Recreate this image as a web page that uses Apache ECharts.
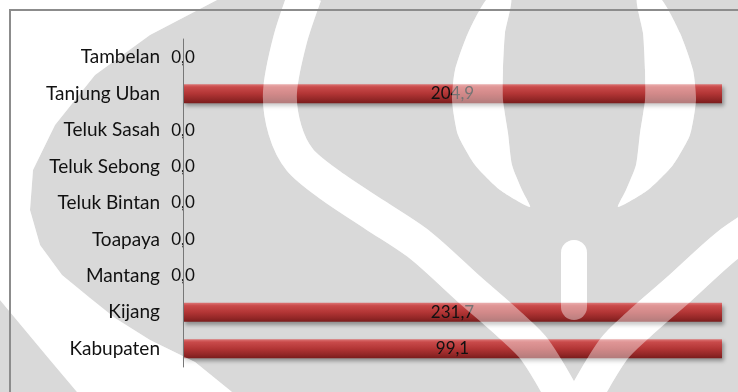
<!DOCTYPE html>
<html>
<head>
<meta charset="utf-8">
<script src="https://cdn.jsdelivr.net/npm/echarts@6/dist/echarts.min.js"></script>
<style>
  html, body { margin: 0; padding: 0; background: #d9d9d9; }
  #chart { width: 738px; height: 392px; }
</style>
</head>
<body>
<div id="chart"></div>
<script>
// Kecamatan (top to bottom) and their values
const categories = ['Tambelan', 'Tanjung Uban', 'Teluk Sasah', 'Teluk Sebong', 'Teluk Bintan', 'Toapaya', 'Mantang', 'Kijang', 'Kabupaten'];
const values = [0.0, 204.9, 0.0, 0.0, 0.0, 0.0, 0.0, 231.7, 99.1];

// 100% stacked layout: each bar is its share of the category total
const seriesValues = [values];
const totals = categories.map((_, i) => seriesValues.reduce((s, arr) => s + arr[i], 0));
const shares = values.map((v, i) => (totals[i] ? (v / totals[i]) * 100 : 0));

const fmt = (v) => v.toFixed(1).replace('.', ',');

// page watermark (light logo behind the chart)
const mirror = (pts) => pts.map(([x, y]) => [1148 - x, y]);
const uBandLeft = [[305, -5], [290, 40], [280, 92], [285, 130], [300, 160], [330, 185], [375, 215], [420, 245], [470, 290], [510, 325], [535, 350], [565, 400]];
const crescentLeft = [[488, -2], [468, 33], [455, 70], [452, 100], [458, 135], [475, 165], [500, 190], [530, 207],
  [522, 190], [512, 165], [508, 133], [503, 100], [503, 70], [505, 33], [511, -2]];
const outerLeft = [[0, 0], [217, 0], [150, 35], [95, 75], [55, 125], [33, 170], [30, 210], [40, 245], [62, 275], [90, 298],
  [115, 318], [150, 340], [195, 362], [232, 392], [77, 392], [50, 360], [25, 330], [0, 300]];

const marks = [
  { type: 'polygon', shape: { points: outerLeft } },
  { type: 'polyline', shape: { points: uBandLeft, smooth: 0.3 } },
  { type: 'polyline', shape: { points: mirror(uBandLeft), smooth: 0.3 } },
  { type: 'polygon', shape: { points: crescentLeft, smooth: 0.2 } },
  { type: 'polygon', shape: { points: mirror(crescentLeft), smooth: 0.2 } },
  { type: 'rect', shape: { x: 561, y: 240, width: 26, height: 80, r: 13 } }
];

function watermark(z, opacity) {
  return marks.map((m) => ({
    type: m.type,
    shape: m.shape,
    z: z,
    silent: true,
    style: m.type === 'polyline'
      ? { fill: null, stroke: '#ffffff', lineWidth: 34, opacity: opacity }
      : { fill: '#ffffff', opacity: opacity }
  }));
}

const barGradient = {
  type: 'linear', x: 0, y: 0, x2: 0, y2: 1,
  colorStops: [
    { offset: 0, color: '#dc7474' },
    { offset: 0.15, color: '#c94a4a' },
    { offset: 0.5, color: '#b23535' },
    { offset: 0.8, color: '#932727' },
    { offset: 1, color: '#7a1c1c' }
  ]
};

const chart = echarts.init(document.getElementById('chart'));
chart.setOption({
  backgroundColor: '#d9d9d9',
  animation: false,
  grid: { left: 183, right: 16, top: 39, bottom: 25, containLabel: false },
  xAxis: {
    type: 'value', min: 0, max: 100, show: false
  },
  yAxis: {
    type: 'category',
    z: 10,
    data: categories,
    inverse: true,
    axisLine: { show: true, lineStyle: { color: '#777777', width: 1 } },
    axisTick: { show: false },
    splitLine: { show: false },
    axisLabel: { margin: 23, fontSize: 19, color: '#111111', fontFamily: 'Lato' }
  },
  series: [{
    type: 'bar',
    stack: 'total',
    data: shares,
    barWidth: 19,
    itemStyle: {
      color: barGradient,
      shadowColor: 'rgba(0,0,0,0.35)',
      shadowBlur: 4,
      shadowOffsetX: 2,
      shadowOffsetY: 3
    },
    label: {
      show: true,
      position: 'inside',
      fontSize: 17,
      fontFamily: 'Lato',
      color: '#111111',
      formatter: (p) => fmt(values[p.dataIndex])
    }
  }],
  graphic: [
    ...watermark(-10, 1),
    ...watermark(5, 0.42),
    {
      type: 'rect', z: 101, silent: true,
      shape: { x: 10, y: 10, width: 740, height: 400 },
      style: { fill: null, stroke: '#8c8c8c', lineWidth: 2 }
    }
  ]
});
</script>
</body>
</html>
